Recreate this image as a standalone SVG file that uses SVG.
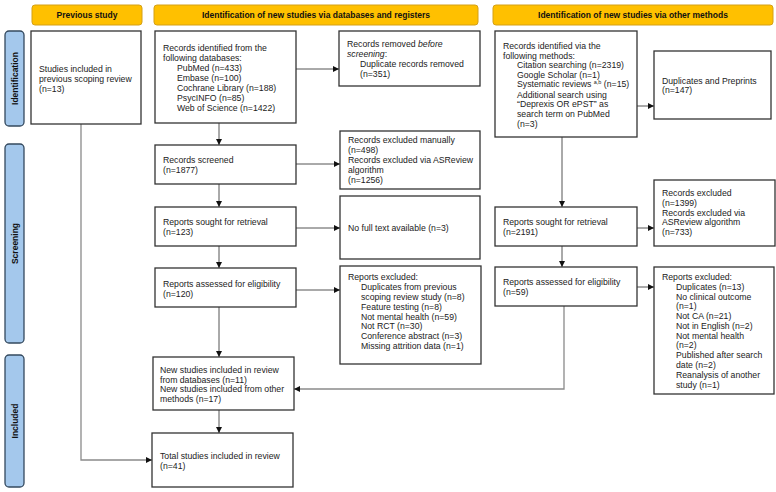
<svg xmlns="http://www.w3.org/2000/svg" width="776" height="492" viewBox="0 0 776 492">
<defs>
<style>
.hdr{fill:#FFC000;stroke:#D4A017;stroke-width:1}
.side{fill:#A4C8EC;stroke:#34495E;stroke-width:1.3}
.box{fill:#fff;stroke:#333;stroke-width:1.3}
.ht{font-family:"Liberation Sans",Arial,sans-serif;font-size:8.5px;font-weight:bold;fill:#111;text-anchor:middle}
.t{font-family:"Liberation Sans",Arial,sans-serif;font-size:8.7px;fill:#222}
.c{fill:none;stroke:#555;stroke-width:1}
.g{fill:none;stroke:#8a8a8a;stroke-width:1.3}
</style>
<marker id="ah" viewBox="0 0 10 10" refX="10" refY="5" markerWidth="6" markerHeight="6" markerUnits="userSpaceOnUse" orient="auto">
<path d="M0,0 L10,5 L0,10 z" fill="#111"/>
</marker>
</defs>

<g id="header-previous"><rect class="hdr" x="32" y="5" width="110" height="20" rx="3"/><text class="ht" x="87" y="18">Previous study</text></g>
<g id="header-databases"><rect class="hdr" x="154" y="5" width="324" height="20" rx="3"/><text class="ht" x="316" y="18">Identification of new studies via databases and registers</text></g>
<g id="header-other"><rect class="hdr" x="493" y="5" width="280" height="20" rx="3"/><text class="ht" x="633" y="18">Identification of new studies via other methods</text></g>

<g id="side-identification"><rect class="side" x="5" y="31" width="19" height="95" rx="4"/><text class="ht" transform="translate(17.5,78.5) rotate(-90)">Identification</text></g>
<g id="side-screening"><rect class="side" x="5" y="144" width="19" height="199" rx="4"/><text class="ht" transform="translate(17.5,243.5) rotate(-90)">Screening</text></g>
<g id="side-included"><rect class="side" x="5" y="355" width="19" height="132" rx="4"/><text class="ht" transform="translate(17.5,421) rotate(-90)">Included</text></g>

<g id="connectors">
<path class="g" d="M81,124 V460 H152" marker-end="url(#ah)"/>
<path class="c" d="M296,69 H339" marker-end="url(#ah)"/>
<path class="c" d="M219,123 V145" marker-end="url(#ah)"/>
<path class="c" d="M296,164 H340" marker-end="url(#ah)"/>
<path class="c" d="M219,184 V207" marker-end="url(#ah)"/>
<path class="c" d="M296,228 H340" marker-end="url(#ah)"/>
<path class="c" d="M219,246 V268" marker-end="url(#ah)"/>
<path class="c" d="M296,290 H340" marker-end="url(#ah)"/>
<path class="c" d="M219,307 V357" marker-end="url(#ah)"/>
<path class="c" d="M219,410 V433" marker-end="url(#ah)"/>
<path class="c" d="M637,106 H654" marker-end="url(#ah)"/>
<path class="c" d="M562,137 V207" marker-end="url(#ah)"/>
<path class="c" d="M637,228 H654" marker-end="url(#ah)"/>
<path class="c" d="M562,246 V267" marker-end="url(#ah)"/>
<path class="c" d="M637,287 H654" marker-end="url(#ah)"/>
<path class="g" d="M564,306 V389 H294" marker-end="url(#ah)"/>
</g>

<g id="previous-studies"><rect class="box" x="31" y="31" width="110" height="93"/>
<text class="t" x="39" y="71.5">Studies included in</text>
<text class="t" x="39" y="81.5">previous scoping review</text>
<text class="t" x="39" y="91.5">(n=13)</text></g>

<g id="records-identified-db"><rect class="box" x="155" y="31" width="141" height="92"/>
<text class="t" x="163" y="51">Records identified from the</text>
<text class="t" x="163" y="61">following databases:</text>
<text class="t" x="177" y="71">PubMed (n=433)</text>
<text class="t" x="177" y="81">Embase (n=100)</text>
<text class="t" x="177" y="91">Cochrane Library (n=188)</text>
<text class="t" x="177" y="100.7">PsycINFO (n=85)</text>
<text class="t" x="177" y="110.5">Web of Science (n=1422)</text></g>

<g id="records-removed"><rect class="box" x="339" y="31" width="141" height="55"/>
<text class="t" x="347" y="47">Records removed <tspan font-style="italic">before</tspan></text>
<text class="t" x="347" y="57"><tspan font-style="italic">screening</tspan>:</text>
<text class="t" x="360" y="67">Duplicate records removed</text>
<text class="t" x="360" y="77">(n=351)</text></g>

<g id="records-screened"><rect class="box" x="155" y="145" width="141" height="39"/>
<text class="t" x="163" y="163">Records screened</text>
<text class="t" x="163" y="173">(n=1877)</text></g>

<g id="records-excluded-db"><rect class="box" x="340" y="131" width="140" height="58"/>
<text class="t" x="348" y="143">Records excluded manually</text>
<text class="t" x="348" y="153">(n=498)</text>
<text class="t" x="348" y="163">Records excluded via ASReview</text>
<text class="t" x="348" y="173">algorithm</text>
<text class="t" x="348" y="183">(n=1256)</text></g>

<g id="reports-sought-db"><rect class="box" x="155" y="207" width="141" height="39"/>
<text class="t" x="163" y="225">Reports sought for retrieval</text>
<text class="t" x="163" y="235">(n=123)</text></g>

<g id="no-full-text"><rect class="box" x="340" y="196" width="140" height="63"/>
<text class="t" x="348" y="231">No full text available (n=3)</text></g>

<g id="reports-assessed-db"><rect class="box" x="155" y="268" width="141" height="39"/>
<text class="t" x="163" y="287">Reports assessed for eligibility</text>
<text class="t" x="163" y="297">(n=120)</text></g>

<g id="reports-excluded-db"><rect class="box" x="340" y="266" width="141" height="98"/>
<text class="t" x="348" y="280">Reports excluded:</text>
<text class="t" x="361" y="290">Duplicates from previous</text>
<text class="t" x="361" y="300">scoping review study (n=8)</text>
<text class="t" x="361" y="310">Feature testing (n=8)</text>
<text class="t" x="361" y="319.7">Not mental health (n=59)</text>
<text class="t" x="361" y="329.3">Not RCT (n=30)</text>
<text class="t" x="361" y="339">Conference abstract (n=3)</text>
<text class="t" x="361" y="349">Missing attrition data (n=1)</text></g>

<g id="records-identified-other"><rect class="box" x="495" y="31" width="142" height="106"/>
<text class="t" x="503" y="48.7">Records identified via the</text>
<text class="t" x="503" y="58.7">following methods:</text>
<text class="t" x="517" y="68">Citation searching (n=2319)</text>
<text class="t" x="517" y="77.7">Google Scholar (n=1)</text>
<text class="t" x="517" y="87.3">Systematic reviews <tspan font-size="5.5px" dy="-3.5">a,b</tspan><tspan dy="3.5"> (n=15)</tspan></text>
<text class="t" x="517" y="97.7">Additional search using</text>
<text class="t" x="517" y="107.3">“Deprexis OR ePST” as</text>
<text class="t" x="517" y="117">search term on PubMed</text>
<text class="t" x="517" y="126.7">(n=3)</text></g>

<g id="duplicates-preprints"><rect class="box" x="654" y="51" width="117" height="68"/>
<text class="t" x="662" y="84">Duplicates and Preprints</text>
<text class="t" x="662" y="93">(n=147)</text></g>

<g id="reports-sought-other"><rect class="box" x="495" y="207" width="142" height="39"/>
<text class="t" x="503" y="225">Reports sought for retrieval</text>
<text class="t" x="503" y="235">(n=2191)</text></g>

<g id="records-excluded-other"><rect class="box" x="654" y="180" width="121" height="66"/>
<text class="t" x="662" y="196">Records excluded</text>
<text class="t" x="662" y="206">(n=1399)</text>
<text class="t" x="662" y="215.5">Records excluded via</text>
<text class="t" x="662" y="225">ASReview algorithm</text>
<text class="t" x="662" y="235">(n=733)</text></g>

<g id="reports-assessed-other"><rect class="box" x="495" y="267" width="142" height="39"/>
<text class="t" x="503" y="285">Reports assessed for eligibility</text>
<text class="t" x="503" y="295">(n=59)</text></g>

<g id="reports-excluded-other"><rect class="box" x="654" y="267" width="120" height="127"/>
<text class="t" x="662" y="280">Reports excluded:</text>
<text class="t" x="676" y="290">Duplicates (n=13)</text>
<text class="t" x="676" y="300">No clinical outcome</text>
<text class="t" x="676" y="309.3">(n=1)</text>
<text class="t" x="676" y="319">Not CA (n=21)</text>
<text class="t" x="676" y="329">Not in English (n=2)</text>
<text class="t" x="676" y="339">Not mental health</text>
<text class="t" x="676" y="348.3">(n=2)</text>
<text class="t" x="676" y="358">Published after search</text>
<text class="t" x="676" y="368">date (n=2)</text>
<text class="t" x="676" y="378">Reanalysis of another</text>
<text class="t" x="676" y="388">study (n=1)</text></g>

<g id="new-studies"><rect class="box" x="153" y="357" width="141" height="53"/>
<text class="t" x="160" y="373">New studies included in review</text>
<text class="t" x="160" y="382.5">from databases (n=11)</text>
<text class="t" x="160" y="392.3">New studies included from other</text>
<text class="t" x="160" y="402">methods (n=17)</text></g>

<g id="total-studies"><rect class="box" x="152" y="433" width="141" height="54"/>
<text class="t" x="160" y="459">Total studies included in review</text>
<text class="t" x="160" y="469">(n=41)</text></g>
</svg>
